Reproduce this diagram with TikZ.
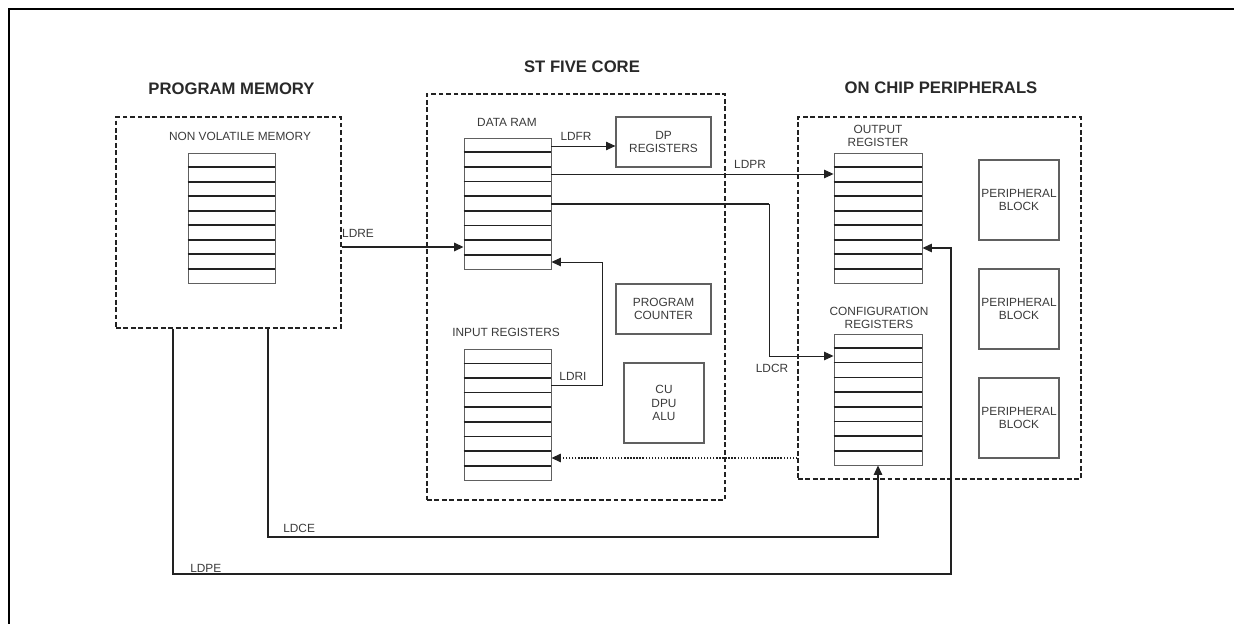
\documentclass[tikz,border=0pt]{standalone}
\usepackage{fontspec}
\setmainfont{Liberation Sans}
\usetikzlibrary{arrows.meta,fit,calc}
\definecolor{dk}{HTML}{222222}
\definecolor{bx}{HTML}{606060}
\definecolor{tx}{HTML}{3A3A3A}
\newcommand\stackrows[2]{%
  \foreach \i in {#2}{\draw[rowline] ($(#1.north west)!\i/9!(#1.south west)$) -- ($(#1.north east)!\i/9!(#1.south east)$);}}
\newcommand\stackthin[2]{%
  \draw[rowthin] ($(#1.north west)!#2/9!(#1.south west)$) -- ($(#1.north east)!#2/9!(#1.south east)$);}
\begin{document}
\begin{tikzpicture}[x=0.75pt,y=-0.75pt,
  dashbox/.style={draw=dk, line width=1.1pt, dash pattern=on 3.6pt off 2pt, inner sep=0pt},
  stackbox/.style={draw=bx, line width=0.7pt, inner sep=0pt},
  blockbox/.style={draw=bx, line width=0.9pt, inner sep=0pt},
  rowline/.style={draw=dk, line width=1.4pt},
  rowthin/.style={draw=dk, line width=0.6pt},
  title/.style={font=\fontsize{12.5}{15}\selectfont\bfseries, text=tx!70!black, inner sep=0pt},
  lbl/.style={font=\fontsize{8.9}{10.2}\selectfont, text=tx, inner sep=0pt, align=center},
  wireA/.style={draw=dk, line width=0.7pt},
  wireB/.style={draw=dk, line width=1.1pt},
  wireC/.style={draw=dk, line width=0.85pt},
  dotw/.style={draw=dk, line width=1pt, dash pattern=on 1.1pt off 1.2pt},
  tip/.style={-{Triangle[length=7pt,width=6.3pt]}}]
\useasboundingbox (0,0) rectangle (1234,624);
\draw[line width=1.5pt] (9,624) -- (9,9) -- (1234,9);

% dashed groups
\node[dashbox, fit={(116,117) (341,328)}] (pm) {};
\node[dashbox, fit={(427,94) (725,500)}] (core) {};
\node[dashbox, fit={(798,117) (1081,479)}] (per) {};

% titles
\node[title] (tpm) at (231.5,89) {PROGRAM MEMORY};
\node[title] (tcore) at (582,67) {ST FIVE CORE};
\node[title] (tper) at (941,88) {ON CHIP PERIPHERALS};

% stack labels
\node[lbl] (lnv) at (240,136) {NON VOLATILE MEMORY};
\node[lbl] (ldram) at (507,122) {DATA RAM};
\node[lbl] (linr) at (506,332) {INPUT REGISTERS};
\node[lbl] (lout) at (878,136) {OUTPUT\\REGISTER};
\node[lbl] (lcfg) at (879,318) {CONFIGURATION\\REGISTERS};

% stacks
\node[stackbox, fit={(188,153) (275,283)}] (nvm) {};
\node[stackbox, fit={(464,138) (551,269)}] (dram) {};
\node[stackbox, fit={(464,349) (551,480)}] (inr) {};
\node[stackbox, fit={(834,153) (922,283)}] (outr) {};
\node[stackbox, fit={(834,334) (922,465)}] (cfg) {};
\stackrows{nvm}{1,...,8}
\stackrows{dram}{1,...,8}
\stackthin{inr}{1}
\stackrows{inr}{2,...,8}
\stackrows{outr}{1,...,8}
\stackrows{cfg}{1}
\stackthin{cfg}{2}
\stackrows{cfg}{3,...,8}

% blocks
\node[blockbox, fit={(616,117) (711,167)}] (dpr) {};
\node[lbl] (dprt) at (dpr.center) {DP\\REGISTERS};
\node[blockbox, fit={(616,284) (711,334)}] (pc) {};
\node[lbl] (pct) at (pc.center) {PROGRAM\\COUNTER};
\node[blockbox, fit={(624,363) (704,443)}] (cu) {};
\node[lbl] (cut) at (cu.center) {CU\\DPU\\ALU};
\node[blockbox, fit={(979,160) (1059,240)}] (pb1) {};
\node[lbl] (pb1t) at (pb1.center) {PERIPHERAL\\BLOCK};
\node[blockbox, fit={(979,269) (1059,349)}] (pb2) {};
\node[lbl] (pb2t) at (pb2.center) {PERIPHERAL\\BLOCK};
\node[blockbox, fit={(979,378) (1059,458)}] (pb3) {};
\node[lbl] (pb3t) at (pb3.center) {PERIPHERAL\\BLOCK};

% connectors
\draw[wireB, tip] (pm.east |- 0,247) -- (dram.west |- 0,247);
\node[lbl] (tldre) at (358,233) {LDRE};

\draw[wireA, tip] (dram.east |- 0,146) -- (dpr.west |- 0,146);
\node[lbl] (tldfr) at (576,136) {LDFR};

\draw[wireA, tip] (dram.east |- 0,174) -- (outr.west |- 0,174);
\node[lbl] (tldpr) at (750,164) {LDPR};

\coordinate (cr) at (769,204);
\draw[wireB] (dram.east |- cr) -- (cr);
\draw[wireA, tip] (cr) -- (cr |- 0,356) -- (cfg.west |- 0,356);
\node[lbl] (tldcr) at (772,368) {LDCR};

\coordinate (ri) at (602,385);
\draw[wireA, tip] (inr.east |- ri) -- (ri) -- (ri |- 0,262) -- (dram.east |- 0,262);
\node[lbl] (tldri) at (573,376) {LDRI};

\draw[dotw, tip] (per.west |- 0,458) -- (inr.east |- 0,458);

\coordinate (ce) at (268,537);
\draw[wireC, tip] (pm.south -| ce) -- (ce) -- (ce -| cfg.south) -- (cfg.south);
\node[lbl, anchor=west] (tldce) at (283,528) {LDCE};

\coordinate (pe) at (173,574);
\coordinate (pr) at (951,248);
\draw[wireC, tip] (pm.south -| pe) -- (pe) -- (pe -| pr) -- (pr) -- (outr.east |- pr);
\node[lbl, anchor=west] (tldpe) at (190,568) {LDPE};
\end{tikzpicture}
\end{document}
